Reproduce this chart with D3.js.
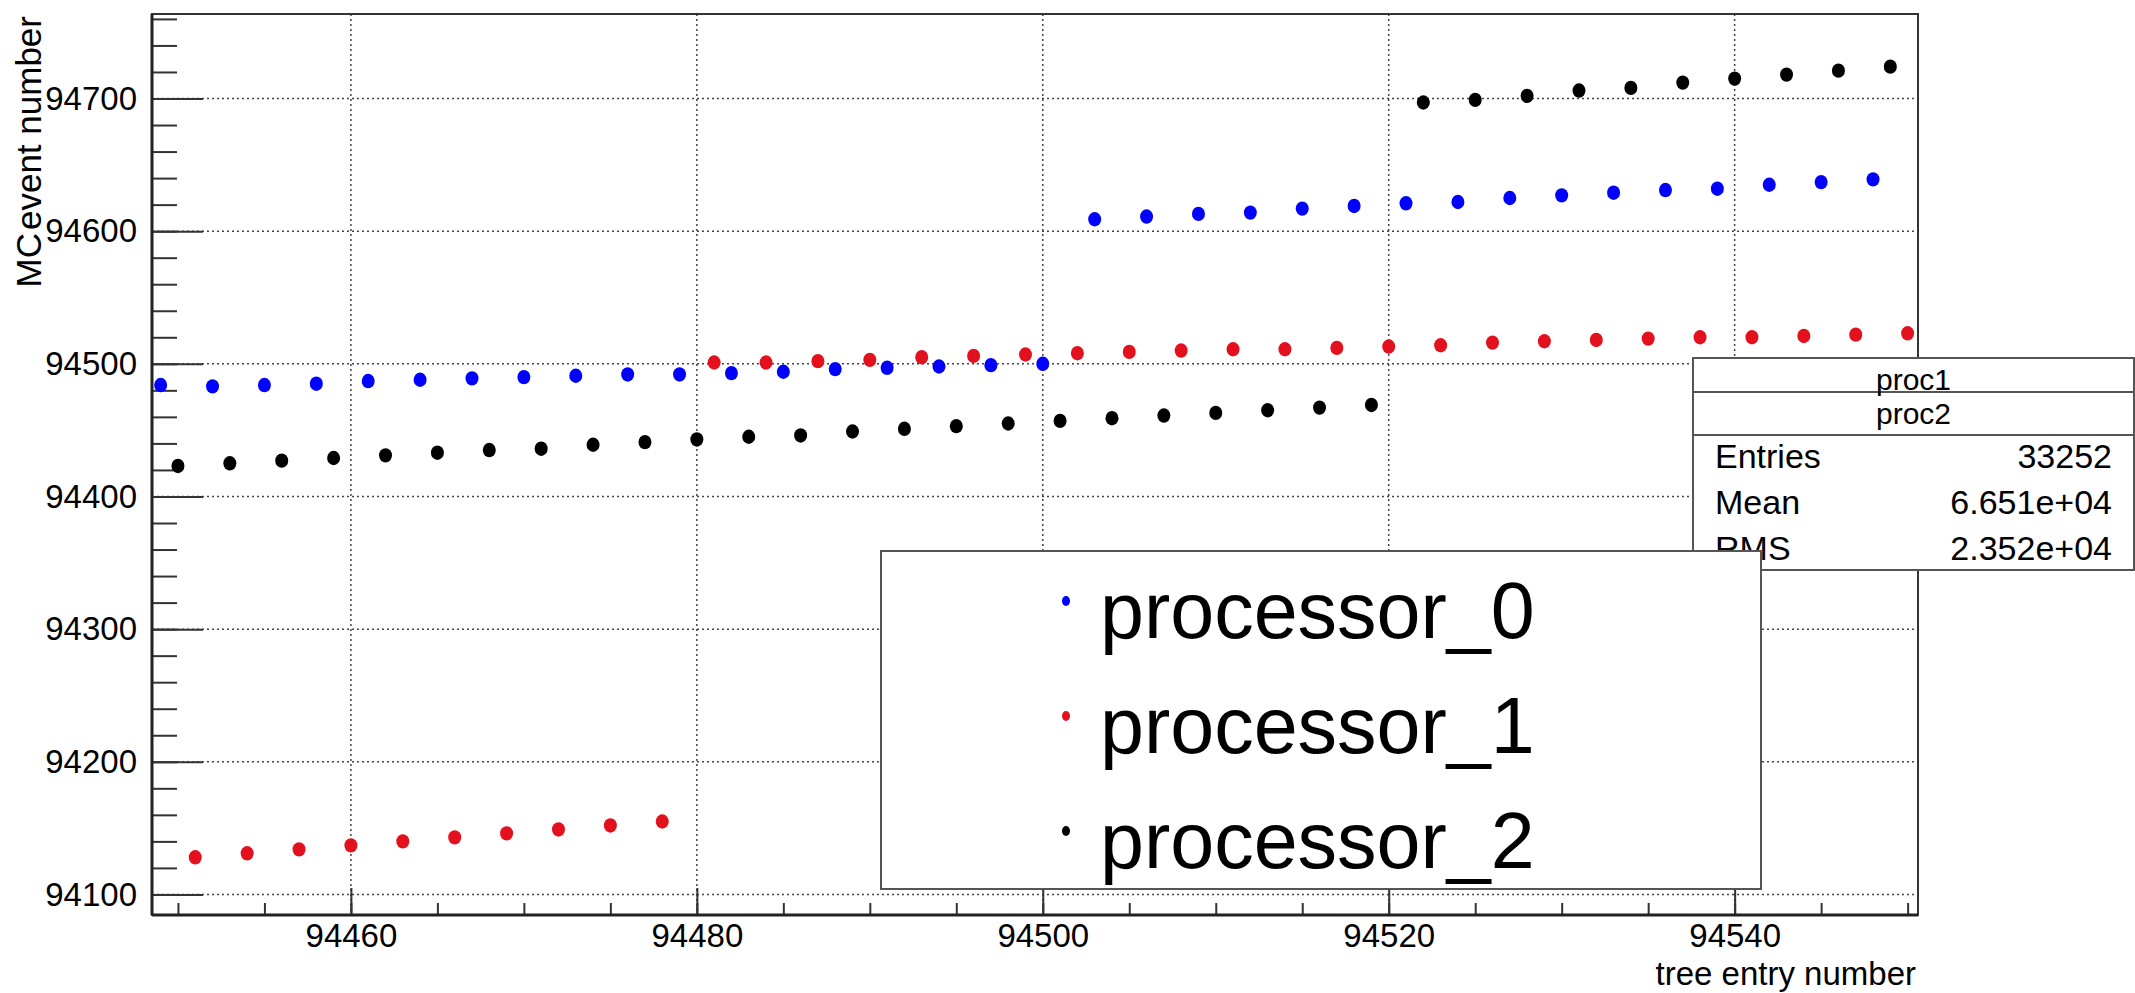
<!DOCTYPE html>
<html lang="en">
<head>
<meta charset="utf-8">
<script src="https://d3js.org/d3.v7.min.js"></script>
<style>
body { margin: 0; background: #fff; }
text { font-family: "Liberation Sans", Arial, Helvetica, sans-serif; fill: #000; }
</style>
</head>
<body>
<div id="chart"></div>
<script>
// tree entry number / MC event number, one pair of arrays per processor
var proc0Entry = [94449, 94452, 94455, 94458, 94461, 94464, 94467, 94470, 94473, 94476, 94479, 94482,
                  94485, 94488, 94491, 94494, 94497, 94500,
                  94503, 94506, 94509, 94512, 94515, 94518, 94521, 94524, 94527, 94530, 94533, 94536,
                  94539, 94542, 94545, 94548];
var proc0Event = [94484, 94483, 94484, 94485, 94487, 94488, 94489, 94490, 94491, 94492, 94492, 94493,
                  94494, 94496, 94497, 94498, 94499, 94500,
                  94609, 94611, 94613, 94614, 94617, 94619, 94621, 94622, 94625, 94627, 94629, 94631,
                  94632, 94635, 94637, 94639];

var proc1Entry = [94451, 94454, 94457, 94460, 94463, 94466, 94469, 94472, 94475, 94478,
                  94481, 94484, 94487, 94490, 94493, 94496, 94499, 94502, 94505, 94508, 94511, 94514,
                  94517, 94520, 94523, 94526, 94529, 94532, 94535, 94538, 94541, 94544, 94547, 94550];
var proc1Event = [94128, 94131, 94134, 94137, 94140, 94143, 94146, 94149, 94152, 94155,
                  94501, 94501, 94502, 94503, 94505, 94506, 94507, 94508, 94509, 94510, 94511, 94511,
                  94512, 94513, 94514, 94516, 94517, 94518, 94519, 94520, 94520, 94521, 94522, 94523];

var proc2Entry = [94450, 94453, 94456, 94459, 94462, 94465, 94468, 94471, 94474, 94477, 94480, 94483,
                  94486, 94489, 94492, 94495, 94498, 94501, 94504, 94507, 94510, 94513, 94516, 94519,
                  94522, 94525, 94528, 94531, 94534, 94537, 94540, 94543, 94546, 94549];
var proc2Event = [94423, 94425, 94427, 94429, 94431, 94433, 94435, 94436, 94439, 94441, 94443, 94445,
                  94446, 94449, 94451, 94453, 94455, 94457, 94459, 94461, 94463, 94465, 94467, 94469,
                  94697, 94699, 94702, 94706, 94708, 94712, 94715, 94718, 94721, 94724];

var seriesNames = ["processor_0", "processor_1", "processor_2"];
var seriesColors = ["#0000ff", "#e3101e", "#000000"];

var xTicks = [94460, 94480, 94500, 94520, 94540];
var yTicks = [94100, 94200, 94300, 94400, 94500, 94600, 94700];

var statTitles = ["proc1", "proc2"];
var statLabels = ["Entries", "Mean", "RMS"];
var statValues = ["33252", "6.651e+04", "2.352e+04"];

let width = 2135;
let height = 993;
let frame = {left: 152, right: 1918, top: 14, bottom: 915};

let svg = d3.select("#chart")
    .append("svg")
    .attr("width", width)
    .attr("height", height);

let x = d3.scaleLinear().domain([94448.5, 94550.6]).range([frame.left, frame.right]);
let y = d3.scaleLinear().domain([94084.5, 94763.7]).range([frame.bottom, frame.top]);

// dotted grid
svg.append("g").selectAll("line")
    .data(xTicks)
    .enter().append("line")
    .attr("x1", d => x(d)).attr("x2", d => x(d))
    .attr("y1", frame.top).attr("y2", frame.bottom)
    .attr("stroke", "#444").attr("stroke-width", 1.5)
    .attr("stroke-dasharray", "2,3");

svg.append("g").selectAll("line")
    .data(yTicks)
    .enter().append("line")
    .attr("x1", frame.left).attr("x2", frame.right)
    .attr("y1", d => y(d)).attr("y2", d => y(d))
    .attr("stroke", "#444").attr("stroke-width", 1.5)
    .attr("stroke-dasharray", "2,3");

// axes: minor ticks first, then major ticks with labels
let xMinor = svg.append("g").attr("transform", "translate(0," + frame.bottom + ")")
    .call(d3.axisBottom(x).ticks(20).tickSize(-12).tickFormat(""));
let xMajor = svg.append("g").attr("transform", "translate(0," + frame.bottom + ")")
    .call(d3.axisBottom(x).tickValues(xTicks).tickSize(-27).tickPadding(9).tickFormat(d3.format("d")));
let yMinor = svg.append("g").attr("transform", "translate(" + frame.left + ",0)")
    .call(d3.axisLeft(y).ticks(30).tickSize(-25).tickFormat(""));
let yMajor = svg.append("g").attr("transform", "translate(" + frame.left + ",0)")
    .call(d3.axisLeft(y).tickValues(yTicks).tickSize(-51).tickPadding(15).tickFormat(d3.format("d")));

[xMinor, xMajor, yMinor, yMajor].forEach(function(g) {
    g.select(".domain").remove();
    g.selectAll(".tick line").attr("stroke", "#333").attr("stroke-width", 2);
    g.selectAll("text").style("font-size", "33px")
        .style("font-family", "'Liberation Sans', Arial, sans-serif").attr("fill", "#000");
});

// frame
svg.append("rect")
    .attr("x", frame.left).attr("y", frame.top)
    .attr("width", frame.right - frame.left).attr("height", frame.bottom - frame.top)
    .attr("fill", "none").attr("stroke", "#333").attr("stroke-width", 2);
svg.append("line")
    .attr("x1", frame.left).attr("x2", frame.left).attr("y1", frame.top).attr("y2", frame.bottom)
    .attr("stroke", "#222").attr("stroke-width", 3);
svg.append("line")
    .attr("x1", frame.left).attr("x2", frame.right).attr("y1", frame.bottom).attr("y2", frame.bottom)
    .attr("stroke", "#222").attr("stroke-width", 3);

// markers
let series = [
    {entry: proc0Entry, event: proc0Event},
    {entry: proc1Entry, event: proc1Event},
    {entry: proc2Entry, event: proc2Event}
];

series.forEach(function(s, i) {
    svg.append("g").selectAll("ellipse")
        .data(s.entry)
        .enter().append("ellipse")
        .attr("cx", d => x(d))
        .attr("cy", (d, j) => y(s.event[j]))
        .attr("rx", 6.5).attr("ry", 7.2)
        .attr("fill", seriesColors[i]);
});

// axis titles
svg.append("text")
    .attr("x", frame.right - 2).attr("y", 985)
    .attr("text-anchor", "end")
    .style("font-size", "33px")
    .text("tree entry number");

let yTitle = svg.append("text")
    .attr("transform", "translate(41,16) rotate(-90)")
    .attr("text-anchor", "end")
    .style("font-size", "35px");
yTitle.append("tspan").text("MC");
yTitle.append("tspan").attr("dx", 3).text("event number");

// statistics box
let stat = {left: 1693, right: 2134, top: 358, row1: 392, row2: 435, bottom: 570};
svg.append("rect")
    .attr("x", stat.left).attr("y", stat.top)
    .attr("width", stat.right - stat.left).attr("height", stat.bottom - stat.top)
    .attr("fill", "#fff").attr("stroke", "#555").attr("stroke-width", 2);
[stat.row1, stat.row2].forEach(function(yy) {
    svg.append("line")
        .attr("x1", stat.left).attr("x2", stat.right).attr("y1", yy).attr("y2", yy)
        .attr("stroke", "#555").attr("stroke-width", 2);
});
svg.selectAll(".stat-title")
    .data(statTitles)
    .enter().append("text")
    .attr("class", "stat-title")
    .attr("x", (stat.left + stat.right) / 2)
    .attr("y", (d, i) => [390, 424][i])
    .attr("text-anchor", "middle")
    .style("font-size", "30px")
    .text(d => d);
svg.selectAll(".stat-label")
    .data(statLabels)
    .enter().append("text")
    .attr("class", "stat-label")
    .attr("x", 1715)
    .attr("y", (d, i) => 468 + i * 46)
    .style("font-size", "34px")
    .text(d => d);
svg.selectAll(".stat-value")
    .data(statValues)
    .enter().append("text")
    .attr("class", "stat-value")
    .attr("x", 2112)
    .attr("y", (d, i) => 468 + i * 46)
    .attr("text-anchor", "end")
    .style("font-size", "34px")
    .text(d => d);

// legend
let legend = {left: 881, right: 1761, top: 551, bottom: 889};
svg.append("rect")
    .attr("x", legend.left).attr("y", legend.top)
    .attr("width", legend.right - legend.left).attr("height", legend.bottom - legend.top)
    .attr("fill", "#fff").attr("stroke", "#555").attr("stroke-width", 2);
let rows = svg.append("g").selectAll("g")
    .data(seriesNames)
    .enter().append("g")
    .attr("transform", (d, i) => "translate(0," + (601 + i * 115) + ")");
rows.append("ellipse")
    .attr("cx", 1066).attr("cy", 0)
    .attr("rx", 4).attr("ry", 5)
    .attr("fill", (d, i) => seriesColors[i]);
rows.append("text")
    .attr("x", 1100).attr("y", 37)
    .style("font-size", "79px")
    .text(d => d);
</script>
</body>
</html>
